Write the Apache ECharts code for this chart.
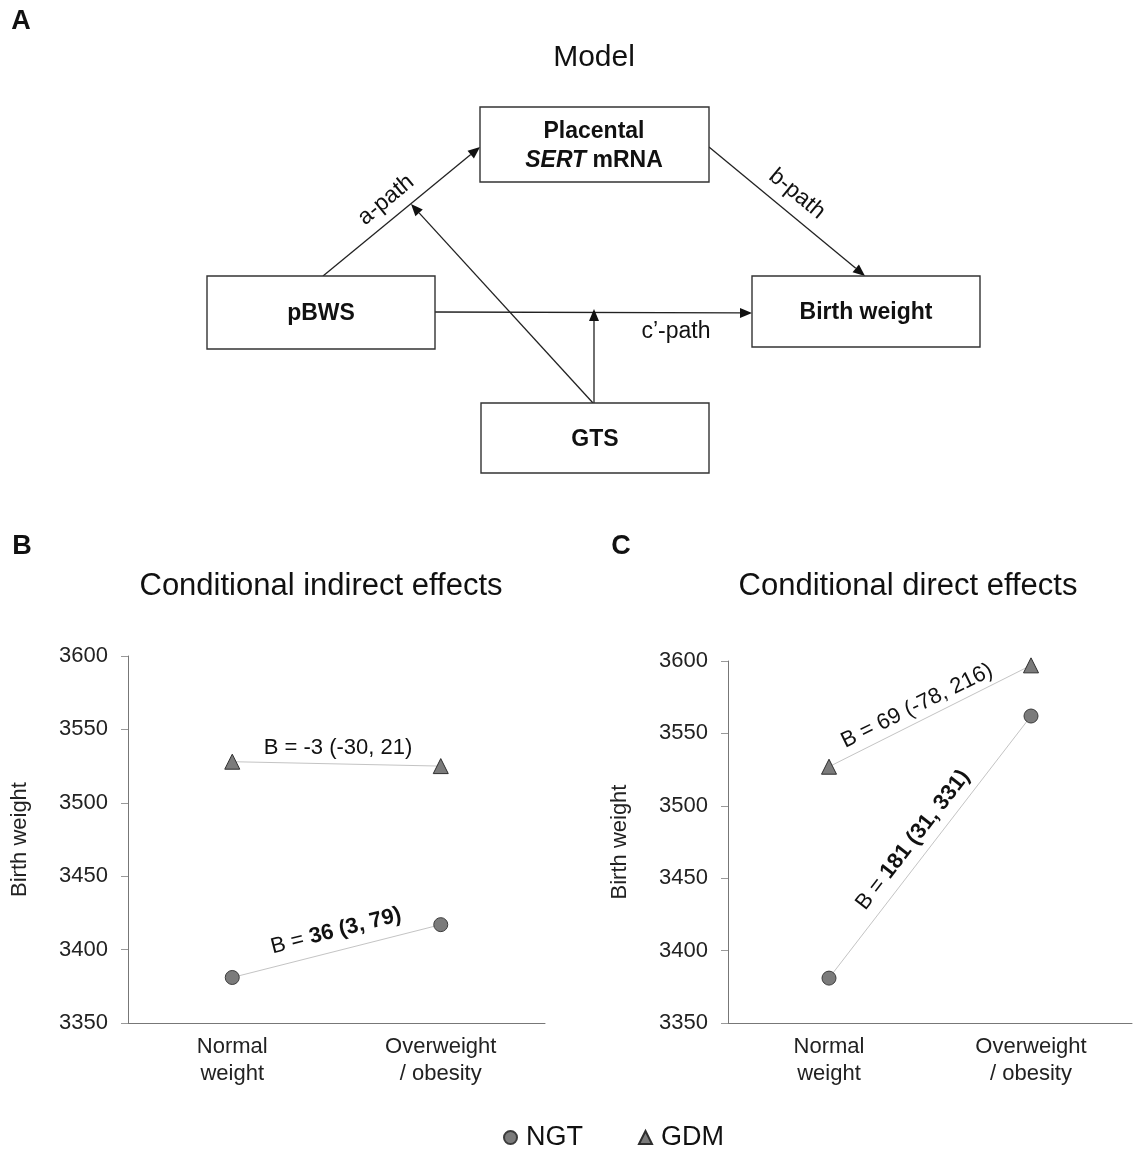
<!DOCTYPE html>
<html><head><meta charset="utf-8">
<script src="https://cdn.jsdelivr.net/npm/echarts@6/dist/echarts.min.js"></script>
<style>html,body{margin:0;padding:0;background:#fff}#c{width:1133px;height:1149px}</style>
</head><body><div id="c"></div>
<script>
const categories = ['Normal\nweight', 'Overweight\n/ obesity'];
const yTicks = [3350, 3400, 3450, 3500, 3550, 3600];
// Panel B: conditional indirect effects
const indirectNGT = [3381, 3417];
const indirectGDM = [3528, 3525];
// Panel C: conditional direct effects
const directNGT = [3381, 3562];
const directGDM = [3527, 3597];
const annotB = ['B = -3 (-30, 21)', ['B = ', '36 (3, 79)']];
const annotC = ['B = 69 (-78, 216)', ['B = ', '181 (31, 331)']];

const FONT = 'Liberation Sans, Arial, sans-serif';
const chart = echarts.init(document.getElementById('c'));

function arrow(x1, y1, x2, y2) {
  const dx = x2 - x1, dy = y2 - y1, L = Math.hypot(dx, dy);
  const ux = dx / L, uy = dy / L, hl = 12, hw = 5;
  const bx = x2 - ux * hl, by = y2 - uy * hl;
  return [
    {type: 'line', shape: {x1, y1, x2: bx, y2: by}, style: {stroke: '#222', lineWidth: 1.3}},
    {type: 'polygon', shape: {points: [[x2, y2], [bx - uy * hw, by + ux * hw], [bx + uy * hw, by - ux * hw]]}, style: {fill: '#111'}}
  ];
}
function box(x, y, w, h) {
  return {type: 'rect', shape: {x, y, width: w, height: h}, style: {fill: '#fff', stroke: '#333', lineWidth: 1.4}, z: 5};
}
function txt(x, y, text, size, weight, rot) {
  return {type: 'text', x, y, rotation: rot || 0, z: 10,
    style: {text, font: (weight || 'normal') + ' ' + size + 'px ' + FONT, fill: '#111', align: 'center', verticalAlign: 'middle'}};
}
function richTxt(x, y, parts, size, rot) {
  return {type: 'text', x, y, rotation: rot || 0, z: 10,
    style: {text: parts[0] + '{b|' + parts[1] + '}', font: size + 'px ' + FONT, fill: '#111', align: 'center', verticalAlign: 'middle',
      rich: {b: {font: 'bold ' + size + 'px ' + FONT, fill: '#111'}}}};
}

const graphics = [].concat(
  [txt(21, 22, 'A', 27, 'bold'), txt(22, 547, 'B', 27, 'bold'), txt(621, 547, 'C', 27, 'bold')],
  [txt(594, 58, 'Model', 30), txt(321, 586, 'Conditional indirect effects', 31), txt(908, 586, 'Conditional direct effects', 31)],
  arrow(323, 276, 480, 147),
  arrow(709, 147, 865, 276),
  arrow(435, 312, 752, 313),
  arrow(594, 403, 594, 309),
  arrow(593, 403, 411, 204),
  [box(480, 107, 229, 75), box(207, 276, 228, 73), box(752, 276, 228, 71), box(481, 403, 228, 70)],
  [
    txt(594, 132, 'Placental', 23, 'bold'),
    {type: 'text', x: 594, y: 161, z: 10, style: {text: '{i|SERT} mRNA', font: 'bold 23px ' + FONT, fill: '#111', align: 'center', verticalAlign: 'middle',
      rich: {i: {font: 'italic bold 23px ' + FONT, fill: '#111'}}}},
    txt(321, 314, 'pBWS', 23, 'bold'),
    txt(866, 313, 'Birth weight', 23, 'bold'),
    txt(595, 440, 'GTS', 23, 'bold'),
    txt(386, 200, 'a-path', 23, 'normal', 0.69),
    txt(797, 194, 'b-path', 23, 'normal', -0.69),
    txt(676, 332, 'c\u2019-path', 23)
  ],
  [
    txt(338, 748, annotB[0], 22),
    richTxt(336, 931, annotB[1], 22, 0.25),
    txt(917, 706, annotC[0], 22, 'normal', 0.457),
    richTxt(913, 840, annotC[1], 22, 0.909)
  ]
);

const xAxisBase = {
  type: 'category', data: categories, boundaryGap: true,
  axisLine: {lineStyle: {color: '#777', width: 1}},
  axisTick: {alignWithLabel: true, length: 7, lineStyle: {color: '#777'}},
  axisLabel: {fontFamily: FONT, fontSize: 22, color: '#222', margin: 10, lineHeight: 27}
};
const yAxisBase = {
  type: 'value', min: yTicks[0], max: yTicks[yTicks.length - 1], interval: yTicks[1] - yTicks[0],
  name: 'Birth weight', nameLocation: 'middle', nameGap: 97,
  nameTextStyle: {fontFamily: FONT, fontSize: 22, color: '#222'},
  splitLine: {show: false},
  axisLine: {show: true, lineStyle: {color: '#777', width: 1}},
  axisTick: {show: true, length: 7, lineStyle: {color: '#999'}},
  axisLabel: {fontFamily: FONT, fontSize: 22, color: '#222', margin: 20, formatter: v => String(v)}
};
const lineStyle = {color: '#c4c4c4', width: 1};
const circleStyle = {color: '#7b7b7b', borderColor: '#3c3c3c', borderWidth: 1};
const triStyle = {color: '#7b7b7b', borderColor: '#2e2e2e', borderWidth: 1};

function ser(name, data, idx, sym) {
  return {name, type: 'line', data, xAxisIndex: idx, yAxisIndex: idx,
    symbol: sym, symbolSize: sym === 'circle' ? 14 : 15, lineStyle,
    itemStyle: sym === 'circle' ? circleStyle : triStyle, z: 3, animation: false};
}

chart.setOption({
  animation: false,
  backgroundColor: '#fff',
  grid: [
    {left: 128, right: 588, top: 656, bottom: 126},
    {left: 728, right: 1, top: 661, bottom: 126}
  ],
  xAxis: [Object.assign({gridIndex: 0}, xAxisBase), Object.assign({gridIndex: 1}, xAxisBase)],
  yAxis: [Object.assign({gridIndex: 0}, yAxisBase), Object.assign({gridIndex: 1}, yAxisBase)],
  legend: {
    data: [{name: 'NGT', icon: 'circle'}, {name: 'GDM', icon: 'triangle'}],
    top: 1119, left: 498, itemWidth: 13, itemHeight: 13, itemGap: 55,
    textStyle: {fontFamily: FONT, fontSize: 27, color: '#111', padding: [0, 0, 0, 4]}
  },
  series: [
    ser('NGT', indirectNGT, 0, 'circle'),
    ser('GDM', indirectGDM, 0, 'triangle'),
    ser('NGT', directNGT, 1, 'circle'),
    ser('GDM', directGDM, 1, 'triangle')
  ],
  graphic: graphics
});
</script></body></html>
